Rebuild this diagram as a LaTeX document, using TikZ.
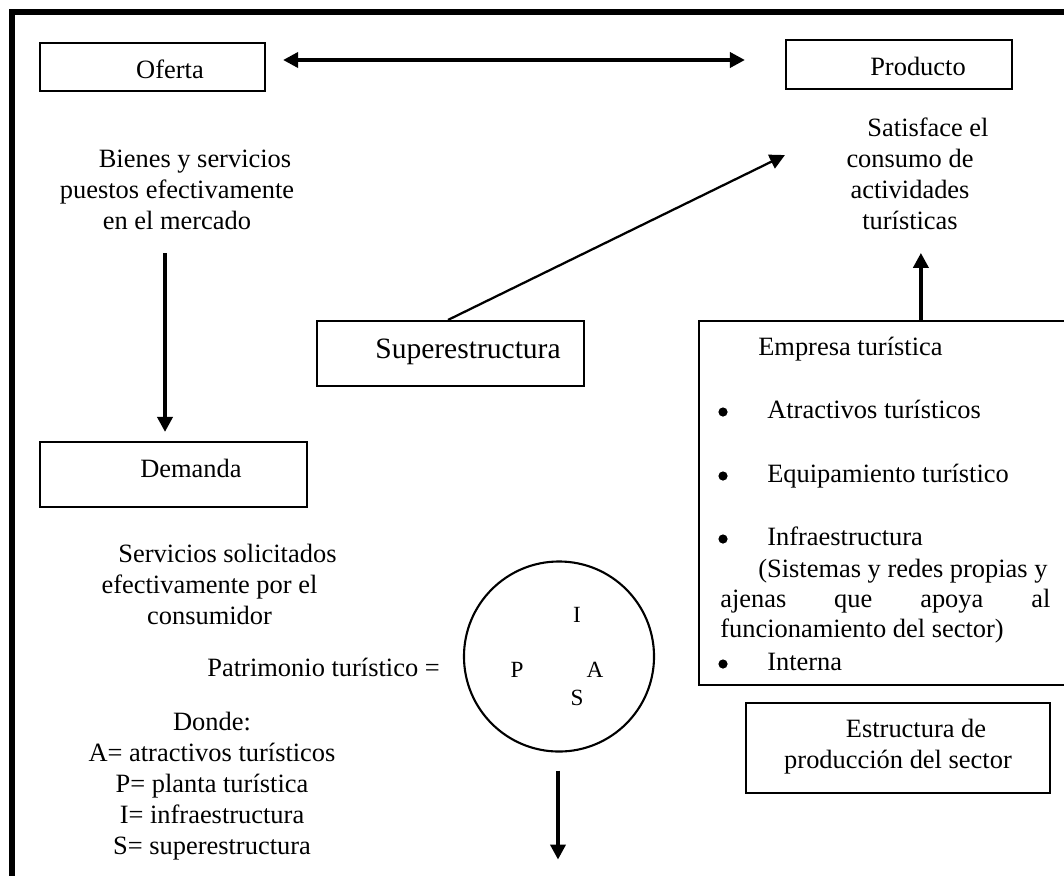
\documentclass[tikz,border=0pt]{standalone}
\usepackage{fontspec}
\setmainfont{Liberation Serif}
\usetikzlibrary{arrows.meta, calc}

\newcommand{\letra}{\fontsize{18.8}{21.9}\selectfont}
\newcommand{\sangria}{\hspace*{0.9cm}}

\tikzset{
  caja/.style={draw, line width=1.5pt, inner sep=0pt},
  texto/.style={font=\letra, inner sep=0pt},
  vineta/.style={circle, fill, inner sep=0pt, minimum size=0.23cm},
  flecha/.style={line width=2.6pt, -{Triangle[length=10.7pt, width=10.7pt]}},
  doble/.style={line width=2.6pt, arrows={Triangle[length=10.7pt, width=10.7pt]-Triangle[length=10.7pt, width=10.7pt]}},
  linea/.style={line width=1.6pt, -{Triangle[length=10.7pt, width=10.7pt]}}
}

\begin{document}
\begin{tikzpicture}[x=0.025cm, y=-0.025cm]
  \useasboundingbox (0,0) rectangle (1064,875);
  \clip (0,0) rectangle (1064,875);
  % marco
  \draw[line width=4.3pt] (12,880) -- (12,12) -- (1070,12);

  % cajas
  \node[caja, minimum width=5.625cm, minimum height=1.2cm] (oferta) at (152.5,67) {};
  \node[texto, anchor=base] (ofertatxt) at (170,78) {Oferta};
  \node[caja, minimum width=5.65cm, minimum height=1.225cm] (producto) at (899,64.5) {};
  \node[texto, anchor=base] (productotxt) at (918,75) {Producto};
  \node[caja, minimum width=6.675cm, minimum height=1.625cm] (demanda) at (173.5,474.5) {};
  \node[texto, anchor=base] (demandatxt) at (191,477) {Demanda};
  \node[caja, minimum width=6.675cm, minimum height=1.625cm] (superestructura) at (450.5,353.5) {};
  \node[texto, font=\fontsize{21}{24}\selectfont, anchor=base] (superestructuratxt) at (468,358) {Superestructura};
  \node[caja, minimum width=9.4cm, minimum height=9.1cm] (empresa) at (887,503) {};
  \node[caja, minimum width=7.6cm, minimum height=2.25cm] (estructura) at (898,748) {};
  \node[texto, align=center, anchor=base] (estructuratxt) at (898,768) {\sangria Estructura de\\producción del sector};

  % textos
  \node[texto, align=center, anchor=base] (bienes) at (177,229) {\sangria Bienes y servicios\\puestos efectivamente\\en el mercado};
  \node[texto, align=center, anchor=base] (satisface) at (910,229) {\sangria Satisface el\\consumo de\\actividades\\turísticas};
  \node[texto, align=center, anchor=base] (servicios) at (209.5,624) {\sangria Servicios solicitados\\efectivamente por el\\consumidor};
  \node[texto, anchor=base east] (patrimoniotxt) at (440,676) {Patrimonio turístico =};
  \node[texto, align=center, anchor=base] (donde) at (212,854) {Donde:\\A= atractivos turísticos\\P= planta turística\\I= infraestructura\\S= superestructura};

  % patrimonio
  \node[draw, circle, line width=1.5pt, minimum size=4.75cm, inner sep=0pt] (patrimonio) at (559,656.5) {};
  \foreach \car/\x/\y in {I/577/622, P/517/677, A/595/677, S/577/705}
    \node[texto, font=\fontsize{16.5}{19}\selectfont, anchor=base] (letra\car) at (\x,\y) {\car};

  % empresa turistica
  \node[texto, anchor=base west] (empresatxt) at (758,355) {Empresa turística};
  \foreach \txt/\y [count=\i] in {Atractivos turísticos/418, Equipamiento turístico/482, Infraestructura/545, Interna/670} {
    \node[vineta] (vineta\i) at (723,\y-6) {};
    \node[texto, anchor=base west] (item\i) at (767,\y) {\txt};
  }
  \node[texto, anchor=base west] (sistemas) at (758,577) {(Sistemas y redes propias y};
  \node[texto, anchor=base west] (ajenas) at (720,607) {\hbox to 8.25cm{ajenas\hfill que\hfill apoya\hfill al}};
  \node[texto, anchor=base west] (funcionamiento) at (720,637) {funcionamiento del sector)};

  % flechas
  \draw[doble] ($(oferta.east)+(17,-7)$) -- ($(producto.west)+(-40,-4.5)$);
  \draw[flecha] ($(oferta.south)+(12.5,161)$) -- ($(demanda.north)+(-8.5,-9)$);
  \draw[linea] ($(superestructura.north)+(-2.5,0)$) -- ($(producto.south west)+(0,65)$);
  \draw[flecha] ($(empresa.north west)+(223,0)$) -- ++(0,-67);
  \draw[flecha] ($(patrimonio.south)+(-1,18)$) -- ++(0,89);
\end{tikzpicture}
\end{document}
